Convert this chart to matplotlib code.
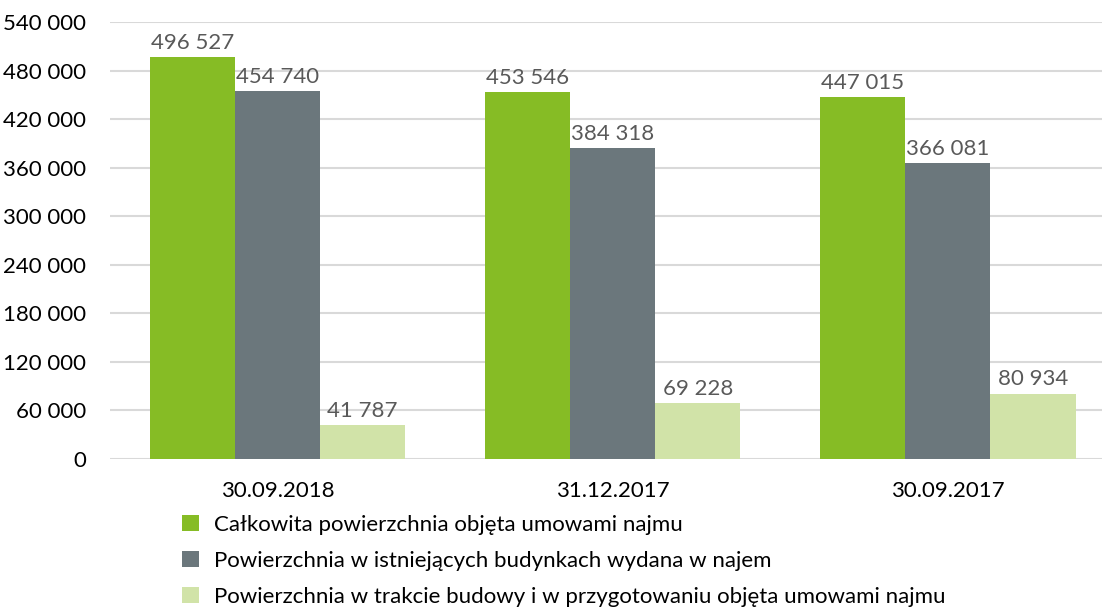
import numpy as np
import matplotlib.pyplot as plt

plt.rcParams['font.family'] = ['Lato', 'DejaVu Sans']

# dane
dates = ["30.09.2018", "31.12.2017", "30.09.2017"]
series_names = [
    "Całkowita powierzchnia objęta umowami najmu",
    "Powierzchnia w istniejących budynkach wydana w najem",
    "Powierzchnia w trakcie budowy i w przygotowaniu objęta umowami najmu",
]
total_leased = [496527, 453546, 447015]
existing_leased = [454740, 384318, 366081]
construction_leased = [41787, 69228, 80934]
y_ticks = list(range(0, 540001, 60000))

colors = ["#86bc25", "#6b777c", "#d1e3a8"]
values = [total_leased, existing_leased, construction_leased]

def fmt(v):
    return f"{v:,}".replace(",", " ")

fig = plt.figure(figsize=(11.02, 6.07), dpi=100)
ax = fig.add_axes([110 / 1102, (607 - 459) / 607, 1 - 110 / 1102, (459 - 22) / 607])

x = np.arange(len(dates))
w = 0.254
bars = []
for i, (vals, c, name) in enumerate(zip(values, colors, series_names)):
    b = ax.bar(x + (i - 1) * w, vals, width=w, color=c, label=name, zorder=3)
    bars.append(b)
    for rect, v in zip(b, vals):
        ax.annotate(fmt(v), (rect.get_x() + rect.get_width() / 2, v),
                    xytext=(0, 3), textcoords="offset points",
                    ha="center", va="bottom", fontsize=16, color="#595959", zorder=4)

ax.set_ylim(0, 540000)
ax.set_xlim(-0.5, 2.46)
ax.set_yticks(y_ticks)
ax.set_yticklabels([fmt(t) for t in y_ticks])
ax.set_xticks(x)
ax.set_xticklabels(dates)
ax.tick_params(axis="both", length=0, labelsize=16, colors="#000000")
ax.tick_params(axis="y", pad=17)
ax.tick_params(axis="x", pad=16)
ax.grid(axis="y", color="#d9d9d9", linewidth=1.5, zorder=0)
for s in ax.spines.values():
    s.set_visible(False)

fig.legend(handles=bars, labels=series_names, loc="upper left",
           bbox_to_anchor=(173 / 1102, 1 - 506 / 607), frameon=False,
           fontsize=16, handlelength=0.75, handleheight=0.75,
           handletextpad=0.7, labelspacing=0.72, borderaxespad=0)

fig.savefig("out.png", dpi=100)
